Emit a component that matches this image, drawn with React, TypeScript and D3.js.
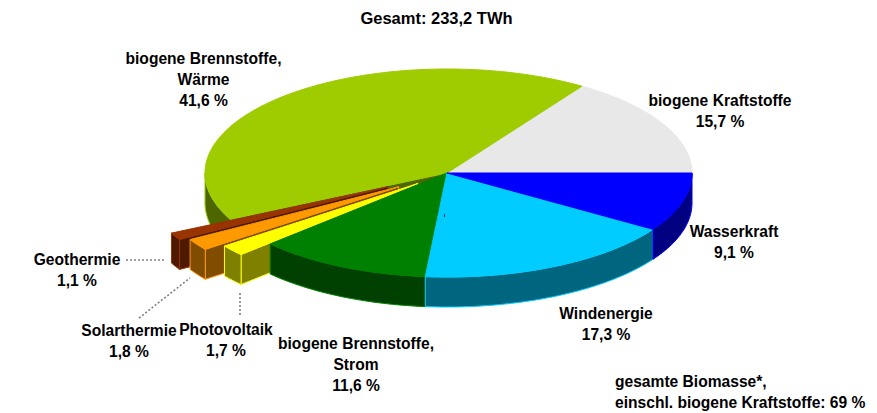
import * as d3 from "d3";

const WIDTH = 877;
const HEIGHT = 413;
const CX = 447;
const CY = 173;
const RX_RIGHT = 245;
const RX_LEFT = 242;
const RY = 104;
const DEPTH = 30;

// clockwise from 3 o'clock, same order as the original pie
const names = ["Wasserkraft", "Windenergie", "biogene Brennstoffe, Strom", "Photovoltaik", "Solarthermie", "Geothermie", "biogene Brennstoffe, Wärme", "biogene Kraftstoffe"];
const shares = [9.1, 17.3, 11.6, 1.7, 1.8, 1.1, 41.6, 15.7];
const explode = [0, 0, 0, 38, 58, 67, 0, 0];
const topColors = ["#0000ff", "#00ccff", "#008000", "#ffff00", "#ff9900", "#993300", "#9ecc00", "#e8e8e8"];
const wallColors = ["#000080", "#006680", "#004000", "#808000", "#804d00", "#4d1a00", "#4d6600", "#747474"];

// paint order, back to front
const drawOrder = [7, 6, 5, 4, 3, 2, 1, 0];

const labels = [
  { lines: ["biogene Brennstoffe,", "Wärme", "41,6 %"], x: 203.5, y: 64 },
  { lines: ["biogene Kraftstoffe", "15,7 %"], x: 720, y: 106 },
  { lines: ["Wasserkraft", "9,1 %"], x: 734, y: 237 },
  { lines: ["Windenergie", "17,3 %"], x: 606, y: 319 },
  { lines: ["biogene Brennstoffe,", "Strom", "11,6 %"], x: 356, y: 349 },
  { lines: ["Photovoltaik", "1,7 %"], x: 226, y: 335 },
  { lines: ["Solarthermie", "1,8 %"], x: 129, y: 336 },
  { lines: ["Geothermie", "1,1 %"], x: 77, y: 265 },
];

const leaders = [
  [126, 260, 166, 260],
  [139, 318, 190, 278],
  [240, 293, 240, 316],
];

const pie = d3.pie<number>().sort(null).startAngle(Math.PI / 2).endAngle(Math.PI / 2 + 2 * Math.PI);

// d3 angle (from 12 o'clock, clockwise) onto the tilted ellipse
const project = (a: number, r = 1): [number, number] => {
  const sx = Math.sin(a);
  return [r * (sx < 0 ? RX_LEFT : RX_RIGHT) * sx, -r * RY * Math.cos(a)];
};

const line = d3.line();

const sampleAngles = (a0: number, a1: number) => {
  const n = Math.max(2, Math.ceil((a1 - a0) / 0.02));
  return d3.range(n + 1).map((i) => a0 + ((a1 - a0) * i) / n);
};

export default function App() {
  const arcs = pie(shares);

  const slices = drawOrder.map((i) => {
    const { startAngle: a0, endAngle: a1 } = arcs[i];
    const mid = (a0 + a1) / 2;
    const [ox, oy] = project(mid, explode[i] / RX_LEFT);

    const top = line([[0, 0], ...sampleAngles(a0, a1).map((a) => project(a))]) + "Z";

    // outer wall: only the front half of the ellipse shows
    const front0 = Math.max(a0, Math.PI / 2);
    const front1 = Math.min(a1, (3 * Math.PI) / 2);
    let outer: string | null = null;
    if (front1 > front0) {
      const pts = sampleAngles(front0, front1).map((a) => project(a));
      const lower = pts.map(([x, y]) => [x, y + DEPTH] as [number, number]).reverse();
      outer = line([...pts, ...lower]) + "Z";
    }

    // cut wall at the start angle
    const [sx, sy] = project(a0);
    const cut = line([[0, 0], [sx, sy], [sx, sy + DEPTH], [0, DEPTH]]) + "Z";
    const showCut = a0 > Math.PI;

    return { i, ox, oy, top, outer, cut: showCut ? cut : null };
  });

  return (
    <svg width={WIDTH} height={HEIGHT} style={{ position: "absolute", left: 0, top: 0 }} fontFamily="'Liberation Sans', Arial, sans-serif" fontWeight="bold" fontSize={15.6} fill="#000">
      <g transform={`translate(${CX},${CY})`}>
        {slices.map((s) => (
          <g key={names[s.i]} transform={`translate(${s.ox},${s.oy})`} strokeWidth={1} strokeLinejoin="round">
            {s.cut && <path d={s.cut} fill={wallColors[s.i]} stroke={s.i === 6 ? wallColors[s.i] : topColors[s.i]} />}
            {s.outer && <path d={s.outer} fill={wallColors[s.i]} stroke={topColors[s.i]} />}
            <path d={s.top} fill={topColors[s.i]} stroke={topColors[s.i]} />
          </g>
        ))}
      </g>

      <rect x={444} y={214} width={1} height={3} fill="#003040" />

      {leaders.map(([x1, y1, x2, y2], i) => (
        <line key={i} x1={x1} y1={y1} x2={x2} y2={y2} stroke="#808080" strokeWidth={1.6} strokeDasharray="2 2" />
      ))}

      <text x={436.5} y={24} textAnchor="middle" fontSize={16.5}>Gesamt: 233,2 TWh</text>

      {labels.map((l) => (
        <text key={l.lines[0]} textAnchor="middle">
          {l.lines.map((t, j) => (
            <tspan key={j} x={l.x} y={l.y + j * 21}>{t}</tspan>
          ))}
        </text>
      ))}

      <text x={615} y={387}>gesamte Biomasse*,</text>
      <text x={615} y={408}>einschl. biogene Kraftstoffe: 69 %</text>
    </svg>
  );
}
